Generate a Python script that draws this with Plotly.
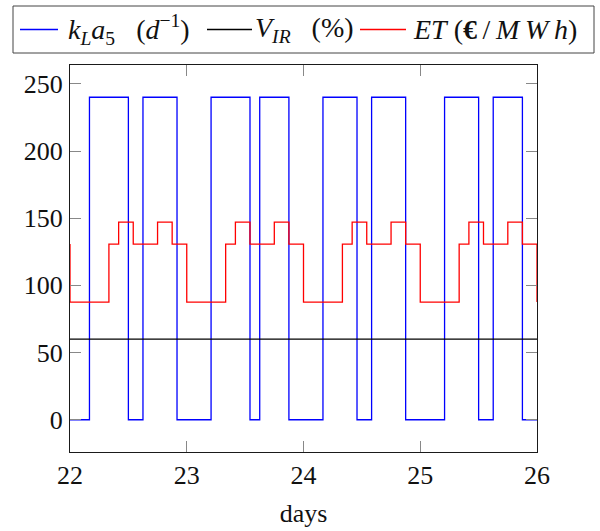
import plotly.graph_objects as go

# Aeration rate k_L a_5 (d^-1): switching instants (days) and levels
kla_days = [22.0, 22.1667, 22.5, 22.625, 22.9167, 23.2083, 23.5417, 23.625, 23.875,
            24.1667, 24.4583, 24.5833, 24.875, 25.2083, 25.5, 25.625, 25.875, 26.0]
kla_vals = [0, 240, 0, 240, 0, 240, 0, 240, 0,
            240, 0, 240, 0, 240, 0, 240, 0, 0]

# Internal recirculation V_IR (%)
vir_days = [22.0, 26.0]
vir_vals = [60, 60]

# Electricity tariff ET (EUR/MWh)
et_days = [22.0, 22.0, 22.3333, 22.4167, 22.5417, 22.75, 22.875,
           23.0, 23.3333, 23.4167, 23.5417, 23.75, 23.875,
           24.0, 24.3333, 24.4167, 24.5417, 24.75, 24.875,
           25.0, 25.3333, 25.4167, 25.5417, 25.75, 25.875,
           26.0]
et_vals = [130.7, 87.6, 130.7, 147.1, 130.7, 147.1, 130.7,
           87.6, 130.7, 147.1, 130.7, 147.1, 130.7,
           87.6, 130.7, 147.1, 130.7, 147.1, 130.7,
           87.6, 130.7, 147.1, 130.7, 147.1, 130.7,
           87.6]

x_ticks = [22, 23, 24, 25, 26]
y_ticks = [0, 50, 100, 150, 200, 250]

series_names = [
    "<i>k</i><sub><i>L</i></sub><i>a</i><sub>5</sub>   (<i>d</i><sup>−1</sup>)",
    "<i>V</i><sub><i>IR</i></sub>   (%)",
    "<i>ET</i> (<b>€</b>\u2009/\u2009<i>M\u2009W\u2009h</i>)",
]
series_colors = ["#0000ff", "#000000", "#ff0000"]

FONT = "'Liberation Serif', 'DejaVu Serif', serif"
TXT = "#111111"

fig = go.Figure()
fig.add_trace(go.Scatter(x=kla_days, y=kla_vals, mode="lines", line_shape="hv",
                         line=dict(color=series_colors[0], width=1.3),
                         name=series_names[0], showlegend=False))
fig.add_trace(go.Scatter(x=vir_days, y=vir_vals, mode="lines",
                         line=dict(color=series_colors[1], width=1.3),
                         name=series_names[1], showlegend=False))
fig.add_trace(go.Scatter(x=et_days, y=et_vals, mode="lines", line_shape="hv",
                         line=dict(color=series_colors[2], width=1.3),
                         name=series_names[2], showlegend=False))

axis_common = dict(
    showline=True, linecolor="#1a1a1a", linewidth=1.2, mirror="ticks",
    ticks="inside", ticklen=11, tickwidth=1, tickcolor="#888888",
    showgrid=False, zeroline=False, automargin=False,
    tickfont=dict(family=FONT, size=26, color=TXT),
)

fig.update_xaxes(range=[22, 26], tickvals=x_ticks, ticktext=[str(v) for v in x_ticks],
                 title=dict(text="days", font=dict(family=FONT, size=26, color=TXT),
                            standoff=14),
                 ticklabelstandoff=0, **axis_common)
fig.update_yaxes(range=[-24, 264], tickvals=y_ticks, ticktext=[str(v) for v in y_ticks],
                 ticklabelstandoff=1, **axis_common)

# Legend drawn as a framed row above the plot area (paper coordinates)
plot_l, plot_r, plot_t, plot_b = 70, 537, 65, 452
def px_x(p):
    return (p - plot_l) / (plot_r - plot_l)
def px_y(p):
    return (plot_b - p) / (plot_b - plot_t)

legend_box = dict(x0=px_x(13), x1=px_x(594), y0=px_y(53), y1=px_y(6))
legend_row_y = px_y(29.5)
sample_spans = [(20, 58), (207, 252), (360, 406)]
text_starts = [66, 253, 411]

shapes = [dict(type="rect", xref="paper", yref="paper", **legend_box,
               line=dict(color="#444444", width=1), fillcolor="white", layer="above")]
annotations = []
for (a, b), tx, name, col in zip(sample_spans, text_starts, series_names, series_colors):
    shapes.append(dict(type="line", xref="paper", yref="paper",
                       x0=px_x(a), x1=px_x(b), y0=legend_row_y, y1=legend_row_y,
                       line=dict(color=col, width=1.3), layer="above"))
    annotations.append(dict(text=name, xref="paper", yref="paper", x=px_x(tx),
                            y=legend_row_y, xanchor="left", yanchor="middle",
                            showarrow=False, font=dict(family=FONT, size=28, color=TXT)))

fig.update_layout(
    width=600, height=531,
    margin=dict(l=plot_l, r=600 - plot_r, t=plot_t, b=531 - plot_b, autoexpand=False),
    paper_bgcolor="white", plot_bgcolor="white",
    font=dict(family=FONT, size=26, color=TXT),
    showlegend=False,
    shapes=shapes,
    annotations=annotations,
)

fig.write_html("out.html")
